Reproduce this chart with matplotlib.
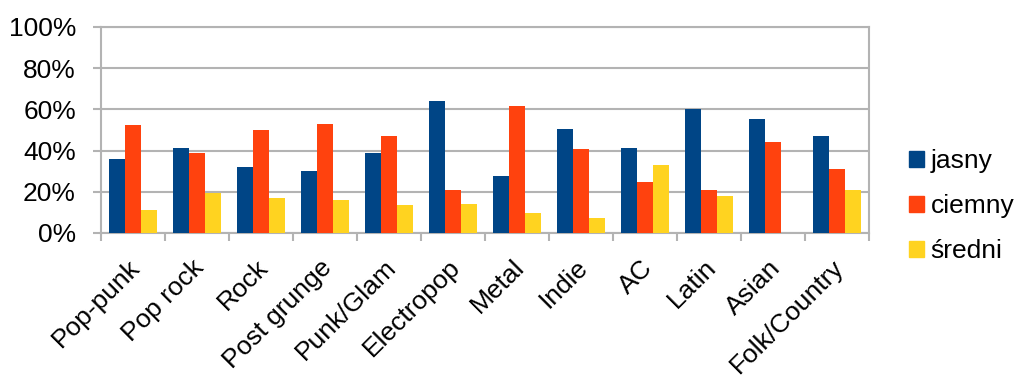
import numpy as np
import matplotlib
matplotlib.use("Agg")
import matplotlib.pyplot as plt
import matplotlib.transforms as mtransforms
from matplotlib.patches import Patch
from matplotlib.ticker import PercentFormatter, FixedLocator

plt.rcParams['font.family'] = ['Liberation Sans', 'DejaVu Sans']

categories = ['Pop-punk', 'Pop rock', 'Rock', 'Post grunge', 'Punk/Glam', 'Electropop',
              'Metal', 'Indie', 'AC', 'Latin', 'Asian', 'Folk/Country']
jasny = [35.8, 41.5, 32.2, 30.3, 38.6, 64.2, 27.7, 50.7, 41.5, 60.0, 55.4, 47.2]
ciemny = [52.5, 38.6, 49.9, 53.0, 47.2, 21.1, 61.8, 41.0, 24.8, 21.1, 44.3, 31.3]
sredni = [11.2, 19.3, 17.2, 16.2, 13.8, 13.9, 9.7, 7.4, 33.1, 18.1, 0.0, 20.7]
series = [('jasny', jasny), ('ciemny', ciemny), ('średni', sredni)]
colors = ['#004586', '#ff420e', '#ffd320']

fs = 19

fig = plt.figure(figsize=(10.18, 3.78), dpi=100)
ax = fig.add_axes([0.0992, 0.3836, 0.7544, 0.545])

x = np.arange(len(categories))
w = 0.25
for i, (name, vals) in enumerate(series):
    ax.bar(x + (i - 1) * w, vals, width=w, color=colors[i], label=name, zorder=3)

grid_c = '#b3b3b3'
ax.set_xlim(-0.5, len(categories) - 0.5)
ax.set_ylim(0, 100)
ax.set_yticks(np.arange(0, 101, 20))
ax.yaxis.set_major_formatter(PercentFormatter(decimals=0))
ax.yaxis.grid(True, color=grid_c, linewidth=1.5, zorder=0)
for s in ax.spines.values():
    s.set_color(grid_c)
    s.set_linewidth(1.5)

ax.set_xticks(x)
ax.set_xticklabels(categories, rotation=45, ha='right', va='top', rotation_mode='anchor')
ax.xaxis.set_minor_locator(FixedLocator(np.arange(-0.5, len(categories), 1)))
ax.tick_params(axis='x', which='major', length=0, pad=16, labelsize=fs)
ax.tick_params(axis='x', which='minor', length=6, width=1.5, color=grid_c)
ax.tick_params(axis='y', length=6, width=1.5, color=grid_c, pad=12, labelsize=fs)

# nudge the rotated labels a bit to the left
shift = mtransforms.ScaledTranslation(-5 / 100, 0, fig.dpi_scale_trans)
for lab in ax.get_xticklabels():
    lab.set_transform(lab.get_transform() + shift)

handles = [Patch(color=colors[i], label=name) for i, (name, _) in enumerate(series)]
fig.legend(handles=handles, loc='center left', bbox_to_anchor=(0.870, 0.455),
           frameon=False, fontsize=fs, handlelength=0.55, handleheight=0.55,
           handletextpad=0.25, labelspacing=0.8)

fig.savefig('out.png', dpi=100)
